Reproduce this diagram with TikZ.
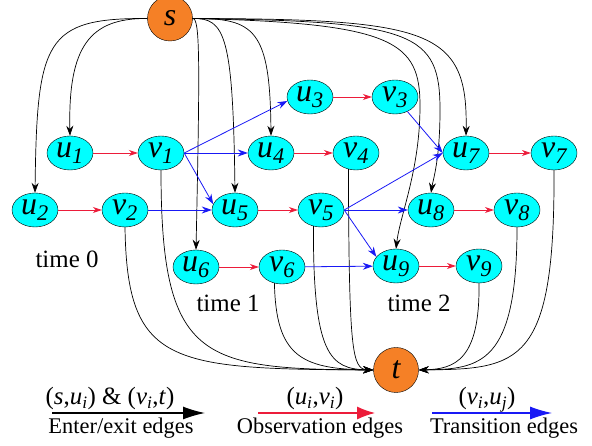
\documentclass[tikz,border=0pt]{standalone}
\usepackage{fontspec}
\setmainfont{Liberation Serif}
\usetikzlibrary{arrows.meta,shapes.geometric}
\definecolor{cellcyan}{RGB}{0,255,255}
\definecolor{termorange}{RGB}{245,128,38}
\definecolor{obsred}{RGB}{236,28,58}
\definecolor{transblue}{RGB}{25,25,245}
\begin{document}
\begin{tikzpicture}[x=1bp, y=1bp,
  cell/.style={ellipse, draw, fill=cellcyan, minimum width=46bp, minimum height=34bp, inner sep=0pt, font=\fontsize{32}{32}\selectfont\itshape},
  term/.style={circle, draw, fill=termorange, minimum size=45bp, inner sep=0pt, font=\fontsize{32}{32}\selectfont\itshape},
  ee/.style={-{Stealth[length=10bp,width=7bp]}, line width=0.7bp},
  oe/.style={-{Stealth[length=9bp,width=6bp]}, draw=obsred, line width=0.8bp},
  te/.style={-{Stealth[length=10bp,width=7bp]}, draw=transblue, line width=0.8bp},
  timelbl/.style={font=\fontsize{25}{25}\selectfont},
  keylbl/.style={anchor=base, font=\fontsize{25}{25}\selectfont},
  keytxt/.style={anchor=base, font=\fontsize{22.5}{22.5}\selectfont}]
  \useasboundingbox (0,0) rectangle (592,446);
  \node[term] (s) at (170,427.5) {s};
  \node[term] (t) at (396,76) {t};
  \node[cell] (u1) at (70,293) {u\textsubscript{1}};
  \node[cell] (v1) at (161,293) {v\textsubscript{1}};
  \node[cell] (u2) at (35,236) {u\textsubscript{2}};
  \node[cell] (v2) at (125,236) {v\textsubscript{2}};
  \node[cell] (u3) at (310,349) {u\textsubscript{3}};
  \node[cell] (v3) at (395,349) {v\textsubscript{3}};
  \node[cell] (u4) at (271,293) {u\textsubscript{4}};
  \node[cell] (v4) at (356,293) {v\textsubscript{4}};
  \node[cell] (u5) at (235,236) {u\textsubscript{5}};
  \node[cell] (v5) at (321,236) {v\textsubscript{5}};
  \node[cell] (u6) at (196,179) {u\textsubscript{6}};
  \node[cell] (v6) at (282,179) {v\textsubscript{6}};
  \node[cell] (u7) at (466,293) {u\textsubscript{7}};
  \node[cell] (v7) at (554,293) {v\textsubscript{7}};
  \node[cell] (u8) at (431,236) {u\textsubscript{8}};
  \node[cell] (v8) at (517,236) {v\textsubscript{8}};
  \node[cell] (u9) at (396,180) {u\textsubscript{9}};
  \node[cell] (v9) at (479,180) {v\textsubscript{9}};
  \node[timelbl] (time0) at (67,187) {time 0};
  \node[timelbl] (time1) at (228,143) {time 1};
  \node[timelbl] (time2) at (419,143) {time 2};
  \draw[ee] (s.west) .. controls (90,428) and (68,400) .. (u1.north);
  \draw[ee] (s.west) .. controls (45,428) and (37,406) .. (u2.north);
  \draw[ee] (s.east) .. controls (200,428) and (200,386) .. (u6.north);
  \draw[ee] (s.east) .. controls (225,428) and (233,411) .. (u5.north);
  \draw[ee] (s.east) .. controls (255,428) and (270,416) .. (u4.north);
  \draw[ee] (s.east) .. controls (430,427) and (468,416) .. (u7.north);
  \draw[ee] (s.east) .. controls (415,425) and (440,413) .. (440,336) .. controls (440,286) and (433,266) .. (u8.north);
  \draw[ee] (s.east) .. controls (395,423) and (420,404) .. (420,340) .. controls (420,276) and (400,231) .. (u9.north);
  \draw[ee] (v1.south) .. controls (161,86) and (200,77) .. (t.west);
  \draw[ee] (v2.south) .. controls (127,81) and (170,77) .. (t.west);
  \draw[ee] (v4.245) .. controls (349,96) and (352,77) .. (t.west);
  \draw[ee] (v5.245) .. controls (313,91) and (330,77) .. (t.west);
  \draw[ee] (v6.245) .. controls (276,91) and (300,77) .. (t.west);
  \draw[ee] (v7.south) .. controls (555,81) and (520,77) .. (t.east);
  \draw[ee] (v8.south) .. controls (517,81) and (480,77) .. (t.east);
  \draw[ee] (v9.south) .. controls (480,86) and (455,77) .. (t.east);
  \foreach \i in {1,...,9}
    \draw[oe] (u\i) -- (v\i);
  \draw[te] (v1.east) -- (u3.190);
  \draw[te] (v1.east) -- (u4.west);
  \draw[te] (v1.east) -- (u5.165);
  \draw[te] (v2) -- (u5);
  \draw[te] (v3) -- (u7.west);
  \draw[te] (v5.east) -- (u7.west);
  \draw[te] (v5.east) -- (u8.west);
  \draw[te] (v5.east) -- (u9.155);
  \draw[te] (v6) -- (u9);
  \coordinate (eeA) at (52,33);
  \coordinate (eeB) at (205,33);
  \coordinate (oeA) at (258,33);
  \coordinate (oeB) at (375,33);
  \coordinate (teA) at (432,33);
  \coordinate (teB) at (552,33);
  \draw[line width=1.3bp, -{Latex[length=22bp,width=13bp]}] (eeA) -- (eeB);
  \draw[obsred, line width=1.1bp, -{Latex[length=18bp,width=13bp]}] (oeA) -- (oeB);
  \draw[transblue, line width=1.1bp, -{Latex[length=22bp,width=13bp]}] (teA) -- (teB);
  \node[keylbl] (eelbl) at (110,41) {(\textit{s},\textit{u}\textsubscript{\textit{i}}) \& (\textit{v}\textsubscript{\textit{i}},\textit{t})};
  \node[keylbl] (oelbl) at (315,41) {(\textit{u}\textsubscript{\textit{i}},\textit{v}\textsubscript{\textit{i}})};
  \node[keylbl] (telbl) at (487,41) {(\textit{v}\textsubscript{\textit{i}},\textit{u}\textsubscript{\textit{j}})};
  \node[keytxt] (eetxt) at (121,12) {Enter/exit edges};
  \node[keytxt] (oetxt) at (320,12) {Observation edges};
  \node[keytxt] (tetxt) at (504,12) {Transition edges};
\end{tikzpicture}
\end{document}
